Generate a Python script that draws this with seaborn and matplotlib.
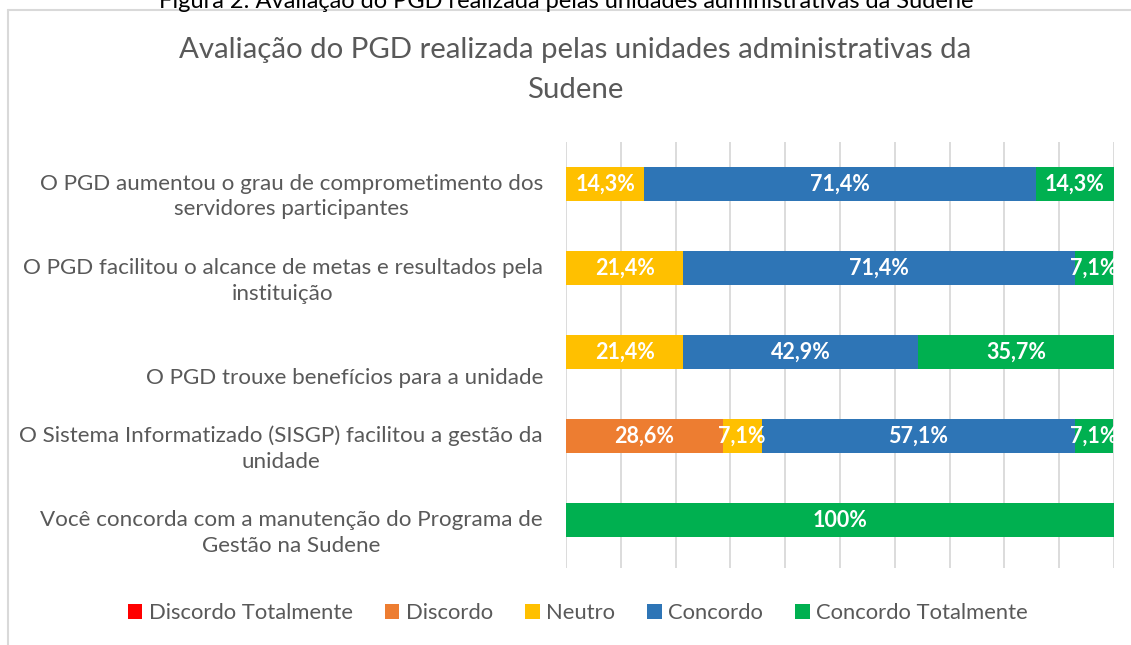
import numpy as np
import pandas as pd
import matplotlib
matplotlib.use("Agg")
import matplotlib.pyplot as plt
import seaborn as sns
from matplotlib.patches import Patch
from matplotlib.lines import Line2D
from matplotlib.transforms import blended_transform_factory

# ---------------- data ----------------
categories = [
    "O PGD aumentou o grau de comprometimento dos\nservidores participantes",
    "O PGD facilitou o alcance de metas e resultados pela\ninstituição",
    "O PGD trouxe benefícios para a unidade",
    "O Sistema Informatizado (SISGP) facilitou a gestão da\nunidade",
    "Você concorda com a manutenção do Programa de\nGestão na Sudene",
]
series_names = ["Discordo Totalmente", "Discordo", "Neutro", "Concordo", "Concordo Totalmente"]
discordo_totalmente = [0, 0, 0, 0, 0]
discordo = [0, 0, 0, 28.6, 0]
neutro = [14.3, 21.4, 21.4, 7.1, 0]
concordo = [71.4, 71.4, 42.9, 57.1, 0]
concordo_totalmente = [14.3, 7.1, 35.7, 7.1, 100]
colors = ["#FF0000", "#ED7D31", "#FFC000", "#2E75B6", "#00B050"]

title = "Avaliação do PGD realizada pelas unidades administrativas da\nSudene"
caption = "Figura 2: Avaliação do PGD realizada pelas unidades administrativas da Sudene"

# ---------------- style ----------------
sns.set_style("white")
plt.rcParams["font.family"] = ["Lato", "DejaVu Sans"]
TXT = "#595959"
GRID = "#D9D9D9"

values = np.array([discordo_totalmente, discordo, neutro, concordo, concordo_totalmente], dtype=float)
cum = np.cumsum(values, axis=0)
keys = [f"c{i}" for i in range(len(categories))]

fig = plt.figure(figsize=(11.31, 6.45), dpi=100)
ax = fig.add_axes([566 / 1131, 1 - 568 / 645, (1114 - 566) / 1131, (568 - 142) / 645])

for s in reversed(range(len(series_names))):
    df = pd.DataFrame({"cat": keys, "val": cum[s]})
    sns.barplot(data=df, x="val", y="cat", orient="y", color=colors[s], width=0.4,
                saturation=1, linewidth=0, edgecolor="none", ax=ax, errorbar=None)

ax.set_xlim(0, 100)
ax.set_ylim(4.57, -0.5)
ax.set_xticks(np.arange(0, 101, 10))
ax.set_xticklabels([])
ax.set_yticks([])
ax.set_xlabel("")
ax.set_ylabel("")
ax.tick_params(length=0)
ax.xaxis.grid(True, color=GRID, lw=1.3)
ax.set_axisbelow(True)
for sp in ax.spines.values():
    sp.set_visible(False)

# data labels
for r in range(len(categories)):
    start = 0.0
    for s in range(len(series_names)):
        v = values[s, r]
        if v > 0:
            lab = "100%" if v >= 100 else f"{v:.1f}%".replace(".", ",")
            ax.text(start + v / 2, r, lab, ha="center", va="center", color="white",
                    fontsize=15.5, fontweight="bold")
        start += v

# category labels
tr = blended_transform_factory(fig.transFigure, ax.transData)
for r, c in enumerate(categories):
    disp = c if "\n" in c else "\n" + c
    ax.text(543 / 1131, r + 0.15, disp, transform=tr, ha="right", va="center",
            multialignment="center", color=TXT, fontsize=16.1, linespacing=1.36)

# title
fig.text(575 / 1131, 1 - 70 / 645, title, ha="center", va="center", color=TXT,
         fontsize=21.2, linespacing=1.62)
# cut-off caption at top (as in the reference)
fig.text(566 / 1131, 1 - 8 / 645, caption, ha="center", va="baseline", color="black",
         fontsize=17)

# border of chart area
fig.add_artist(Line2D([8 / 1131, 8 / 1131], [0, 1 - 10 / 645], transform=fig.transFigure,
                      color=GRID, lw=1.5))
fig.add_artist(Line2D([8 / 1131, 1], [1 - 10 / 645, 1 - 10 / 645], transform=fig.transFigure,
                      color=GRID, lw=1.5))

# legend
handles = [Patch(facecolor=c, edgecolor="none") for c in colors]
fig.legend(handles, series_names, loc="center", bbox_to_anchor=(578 / 1131, 1 - 613 / 645),
           ncol=5, frameon=False, handlelength=0.65, handleheight=0.65, handletextpad=0.3,
           columnspacing=1.47, fontsize=15.8, labelcolor=TXT)

fig.savefig("out.png", dpi=100)
